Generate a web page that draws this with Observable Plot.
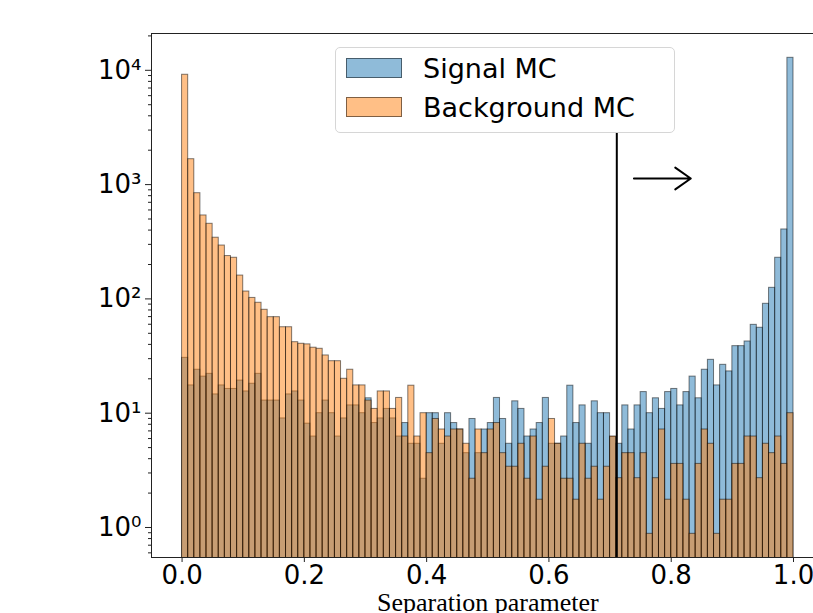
<!DOCTYPE html>
<html>
<head>
<meta charset="utf-8">
<script src="https://cdn.jsdelivr.net/npm/d3@7"></script>
<script src="https://cdn.jsdelivr.net/npm/@observablehq/plot@0.6"></script>
<style>
  body { margin: 0; background: #fff; }
  #wrap { position: relative; width: 813px; height: 613px; overflow: hidden; background: #fff; }
  .legend { position: absolute; left: 335px; top: 47px; width: 340px; height: 86px; box-sizing: border-box;
            border: 1px solid #d6d6d6; border-radius: 5px; background: rgba(255,255,255,0.8);
            font-family: "DejaVu Sans", sans-serif; font-size: 27px; color: #000; }
  .item { position: absolute; left: 10px; height: 20px; }
  .patch { position: absolute; left: 0; top: 0; width: 56px; height: 20px; box-sizing: border-box; border: 1px solid rgba(0,0,0,0.5); }
  .lab { position: absolute; left: 77px; top: -7px; white-space: nowrap; line-height: 36px; }
</style>
</head>
<body>
<div id="wrap"></div>
<script>
// ---- data ----
const binStart = 0.0;
const binWidth = 0.01;
const signalName = "Signal MC";
const backgroundName = "Background MC";
const signalColor = "#1f77b4";
const backgroundColor = "#ff7f0e";
const signalCounts = [
  30.5, 17.5, 24, 20.9, 22.1, 14.6, 17.5, 16.3, 16.3, 19.3,
  15.5, 18.1, 22.1, 12.9, 12.9, 12.9, 9.0, 14.6, 15.5, 12.9,
  8.1, 6.25, 10, 12.9, 10, 6.25, 9.0, 11.7, 11.7, 10,
  13.5, 8.2, 9, 10.9, 9.0, 6.25, 8.2, 5.4, 5.4, 2.67,
  10, 10, 5.4, 10, 8.2, 7.2, 4.47, 8.9, 4.47, 7.2,
  8.2, 13.6, 8.9, 5.4, 12.7, 10.9, 6.25, 7.2, 8.2, 13.6,
  5.4, 5.4, 6.25, 17.4, 8.2, 11.7, 5.4, 12.7, 10, 10,
  6.2, 5.4, 11.7, 7.2, 11.7, 15.3, 10, 13.5, 10.9, 15.3,
  16.3, 11.7, 15.3, 20.9, 13.5, 24, 29.3, 17.5, 26.5, 23.2,
  38.6, 38.6, 42.4, 59.3, 55.9, 90.6, 125, 229, 405, 12860
];
const backgroundCounts = [
  9140, 1668, 841, 537, 454, 343, 293, 237, 229, 160,
  116, 102, 92.5, 80.3, 69.2, 69.2, 56.5, 56.5, 41.8, 40.5,
  40, 37.4, 36.6, 32, 28.5, 28.5, 20, 24, 17.5, 17.5,
  12.9, 10.9, 15.5, 15.5, 10.9, 13.6, 6.25, 17.4, 6.25, 10,
  4.47, 8.9, 7.2, 6.25, 7.2, 7.2, 5.4, 2.67, 7.2, 4.47,
  7.2, 8.2, 4.47, 3.4, 3.4, 5.4, 2.67, 6.25, 1.75, 3.4,
  8.9, 5.4, 2.67, 2.67, 1.75, 5.4, 2.67, 3.4, 1.75, 3.4,
  6.25, 2.7, 4.47, 4.47, 2.7, 4.47, 0.88, 2.7, 7.2, 1.75,
  3.6, 3.6, 1.75, 0.88, 3.6, 7.2, 5.4, 0.88, 1.75, 1.75,
  3.6, 3.6, 6.25, 6.25, 2.7, 5.4, 4.47, 6.25, 3.6, 10
];
const xTicks = [0.0, 0.2, 0.4, 0.6, 0.8, 1.0];
const yTicks = [1, 10, 100, 1000, 10000];
const xLabel = "Separation parameter";
const cutValue = 0.711;
const cutTop = 2800;
const arrowFrom = 0.739, arrowTo = 0.832, arrowLevel = 1130;
const xDomain = [-0.05, 1.0327];
const yDomain = [0.5463, 20990];

// ---- build ----
const toRows = (counts, series) => counts.map((v, i) => ({
  series, x1: binStart + i * binWidth, x2: binStart + (i + 1) * binWidth, value: v
}));
const signalRows = toRows(signalCounts, signalName);
const backgroundRows = toRows(backgroundCounts, backgroundName);

const sup = {"-1": "⁻¹", 0: "⁰", 1: "¹", 2: "²", 3: "³", 4: "⁴"};
const minorTicks = [];
for (let k = -1; k <= 4; k++) for (let m = 2; m <= 9; m++) {
  const v = m * Math.pow(10, k);
  if (v > yDomain[0] && v < yDomain[1]) minorTicks.push(v);
}

const barOpts = (color) => ({
  x1: "x1", x2: "x2", y1: yDomain[0] * 0.5, y2: "value",
  fill: color, fillOpacity: 0.5, stroke: "#000", strokeOpacity: 0.5, strokeWidth: 1, clip: true
});

const chart = Plot.plot({
  width: 813,
  height: 613,
  marginLeft: 151,
  marginRight: 0,
  marginTop: 33,
  marginBottom: 56,
  style: { fontFamily: "DejaVu Sans, sans-serif", background: "#fff", color: "#000" },
  x: { domain: xDomain },
  y: { type: "log", domain: yDomain },
  marks: [
    Plot.rect(signalRows, barOpts(signalColor)),
    Plot.rect(backgroundRows, barOpts(backgroundColor)),
    Plot.ruleX([cutValue], { y1: yDomain[0], y2: cutTop, stroke: "#000", strokeWidth: 2 }),
    Plot.arrow([{ x1: arrowFrom, x2: arrowTo, y: arrowLevel }], {
      x1: "x1", x2: "x2", y1: "y", y2: "y", stroke: "#000", strokeWidth: 2, headLength: 16, headAngle: 70
    }),
    // spines
    Plot.ruleY([yDomain[0]], { stroke: "#222", strokeWidth: 1 }),
    Plot.ruleY([yDomain[1]], { stroke: "#222", strokeWidth: 1 }),
    Plot.ruleX([xDomain[0]], { stroke: "#222", strokeWidth: 1 }),
    // axes
    Plot.axisY(minorTicks, { tickSize: 3, tickFormat: () => "", label: null, stroke: "#222" }),
    Plot.axisY(yTicks, { tickSize: 6, tickPadding: 4, fontSize: 26, label: null, stroke: "#222",
      tickFormat: d => "10" + sup[Math.round(Math.log10(d))] }),
    Plot.axisX(xTicks, { tickSize: 5, tickPadding: 3, fontSize: 26, label: null, stroke: "#222",
      tickFormat: d => d.toFixed(1) }),
    Plot.text([xLabel], { x: () => 0.5, frameAnchor: "bottom", dy: 53, text: d => d,
      fontSize: 26, fontFamily: "Liberation Serif, Times New Roman, serif", fill: "#000" })
  ]
});

const wrap = document.getElementById("wrap");
wrap.appendChild(chart);

// legend overlay
const legend = document.createElement("div");
legend.className = "legend";
[[signalName, signalColor, 10], [backgroundName, backgroundColor, 49]].forEach(([name, color, top]) => {
  const item = document.createElement("div");
  item.className = "item";
  item.style.top = top + "px";
  const patch = document.createElement("div");
  patch.className = "patch";
  patch.style.background = d3.color(color).copy({opacity: 0.5}).formatRgb();
  const lab = document.createElement("div");
  lab.className = "lab";
  lab.textContent = name;
  item.appendChild(patch);
  item.appendChild(lab);
  legend.appendChild(item);
});
wrap.appendChild(legend);
</script>
</body>
</html>
